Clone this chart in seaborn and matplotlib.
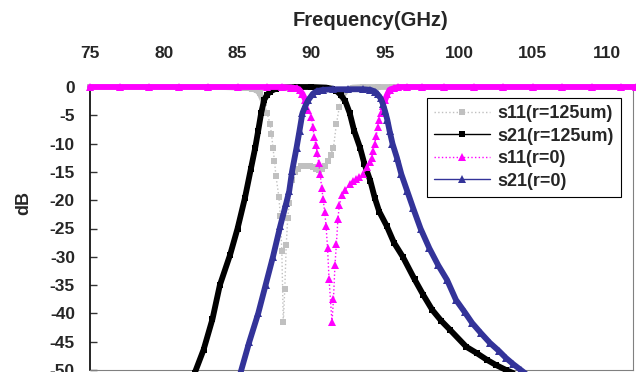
import numpy as np
import matplotlib
matplotlib.use('Agg')
import matplotlib.pyplot as plt
import seaborn as sns

# ----------------- data -----------------
# s11, r = 125um (grey, dotted, squares)
freq_s11_125 = [75, 77, 79, 81, 83, 84, 85, 85.5, 86.0, 86.3, 86.5, 86.8, 87.0, 87.2,
                87.3, 87.4, 87.5, 87.6, 87.8, 87.9, 88.0, 88.1, 88.2, 88.3, 88.4, 88.5,
                88.7, 88.9, 89.1, 89.3, 89.5, 89.7, 89.9, 90.1, 90.3, 90.5, 90.7, 90.9,
                91.1, 91.3, 91.5, 91.7, 91.9, 92.1, 92.4, 92.8, 93.5, 94.5, 95.5, 96.5,
                97.5, 99, 101, 103, 105, 107, 109, 111, 112]
db_s11_125 = [0, 0, 0, 0, 0, 0, -0.1, -0.1, -0.3, -0.6, -1.1, -2.9, -4.6, -6.5,
              -8.3, -10.7, -13.0, -15.7, -19.4, -22.8, -29.0, -41.6, -35.7, -27.9, -23.2, -20.5,
              -16.5, -15.0, -14.4, -14.0, -13.9, -13.9, -14.0, -14.2, -14.5, -14.6, -14.4, -14.0,
              -13.0, -12.0, -10.7, -6.5, -3.5, -1.6, -0.5, -0.1, 0, 0, 0, 0,
              0, 0, 0, 0, 0, 0, 0, 0, 0]

# s21, r = 125um (black, solid, squares)
freq_s21_125 = [82.1, 82.7, 83.3, 83.8, 84.5, 85.0, 85.5, 85.9, 86.2, 86.4, 86.6, 86.8,
                87.0, 87.2, 87.6, 88.0, 89.0, 90.0, 91.0, 91.4, 91.7, 92.0, 92.3, 92.6,
                92.9, 93.3, 93.6, 94.0, 94.3, 94.6, 95.1, 95.6, 96.2, 97.0, 97.6, 98.2,
                98.8, 99.4, 100.5, 101.2, 101.9, 102.5, 103.2, 103.9]
db_s21_125 = [-50.5, -46.4, -41.0, -35.0, -29.6, -25.0, -19.6, -14.5, -10.7, -7.7, -4.6, -2.3,
              -1.4, -0.8, -0.3, -0.1, 0, 0, -0.1, -0.3, -0.7, -1.4, -2.5, -4.6,
              -7.7, -10.7, -13.6, -16.6, -19.6, -22.0, -24.5, -27.5, -30.0, -34.0, -36.8, -39.4,
              -41.3, -42.9, -45.9, -47.0, -48.2, -49.1, -50.0, -50.8]

# s11, r = 0 (magenta, dotted, triangles)
freq_s11_0 = [75, 77, 79, 81, 83, 85, 87, 88.0, 88.6, 89.0, 89.2, 89.4, 89.6, 89.8,
              90.0, 90.1, 90.2, 90.3, 90.4, 90.5, 90.6, 90.7, 90.8, 90.9, 91.0, 91.1,
              91.2, 91.4, 91.5, 91.6, 91.7, 91.8, 91.9, 92.1, 92.3, 92.6, 92.8, 93.0,
              93.2, 93.5, 93.8, 94.0, 94.1, 94.2, 94.3, 94.4, 94.5, 94.6, 94.7, 94.85,
              95.0, 95.15, 95.3, 95.6, 95.9, 96.5, 97.5, 99, 101, 103, 105, 107,
              109, 111, 112]
db_s11_0 = [0, 0, 0, 0, 0, 0, 0, 0, -0.1, -0.2, -0.5, -1.2, -2.3, -4.1,
            -5.3, -7.1, -8.9, -10.2, -11.6, -13.4, -15.4, -17.8, -19.8, -22.0, -24.6, -28.5,
            -33.9, -41.6, -37.5, -31.5, -27.7, -23.4, -20.8, -19.0, -18.2, -17.1, -16.6, -16.3,
            -15.9, -15.4, -14.2, -13.2, -12.5, -11.3, -10.0, -8.6, -7.1, -5.8, -4.6, -3.4,
            -2.3, -1.3, -0.5, -0.2, 0, 0, 0, 0, 0, 0, 0, 0,
            0, 0, 0]

# s21, r = 0 (dark blue, solid, triangles)
freq_s21_0 = [85.2, 85.8, 86.4, 86.9, 87.4, 87.9, 88.3, 88.5, 88.7, 89.0, 89.2, 89.4,
              89.6, 89.8, 90.1, 90.4, 90.8, 91.5, 92.5, 93.5, 94.0, 94.3, 94.5, 94.7,
              94.85, 95.0, 95.15, 95.3, 95.5, 95.8, 96.1, 96.5, 96.9, 97.4, 98.0, 98.6,
              99.2, 99.8, 100.4, 100.9, 101.5, 102.1, 102.7, 103.2, 103.7, 104.2, 104.6]
db_s21_0 = [-50.5, -45.0, -40.0, -35.0, -30.0, -24.5, -20.5, -18.4, -14.8, -10.7, -7.7, -4.6,
            -3.3, -2.3, -1.2, -0.7, -0.5, -0.4, -0.4, -0.4, -0.5, -0.8, -1.3, -2.0,
            -3.0, -4.3, -5.8, -7.7, -10.0, -12.5, -15.4, -18.4, -21.4, -25.0, -28.5, -31.5,
            -34.1, -37.6, -39.8, -41.7, -43.5, -45.2, -46.6, -47.9, -49.0, -50.0, -50.8]

x_ticks = [75, 80, 85, 90, 95, 100, 105, 110]
y_ticks = [0, -5, -10, -15, -20, -25, -30, -35, -40, -45, -50]

# ----------------- style -----------------
sns.set_style('white')
plt.rcParams['font.family'] = ['Liberation Sans', 'DejaVu Sans']
plt.rcParams['font.weight'] = 'bold'
plt.rcParams['axes.unicode_minus'] = False

fig = plt.figure(figsize=(6.36, 3.72), dpi=100)
ax = fig.add_axes([90 / 636, 2 / 372, 543 / 636, 283 / 372])

# Excel draw order: later series on top
series = [
    (freq_s11_125, db_s11_125, 's11(r=125um)', '#C0C0C0', 's', ':', 4.6, False),
    (freq_s21_125, db_s21_125, 's21(r=125um)', 'black', 's', '-', 4.6, True),
    (freq_s11_0, db_s11_0, 's11(r=0)', '#FF00FF', '^', ':', 5.6, False),
    (freq_s21_0, db_s21_0, 's21(r=0)', '#333399', '^', '-', 5.6, True),
]

for z, (f, d, lab, col, mk, ls, ms, solid) in enumerate(series):
    f = np.array(f, dtype=float)
    d = np.array(d, dtype=float)
    # dense Excel markers merge into a thick band where the curve is flat
    band = d if solid else np.where(d > -3, d, np.nan)
    ax.plot(f, band, color=col, lw=4.2, solid_capstyle='round',
            solid_joinstyle='round', zorder=2 + z, clip_on=False)
    sns.lineplot(x=f, y=d, ax=ax, color=col, marker=mk, markersize=ms,
                 markeredgewidth=0, linestyle=ls, linewidth=1.0,
                 estimator=None, sort=False, label=lab,
                 zorder=2 + z, clip_on=False)

ax.set_xlim(75, 111.8)
ax.set_ylim(-50, 0)
ax.set_xticks(x_ticks)
ax.set_yticks(y_ticks)
ax.set_xticklabels([str(v) for v in x_ticks])
ax.set_yticklabels([str(v) for v in y_ticks])

ax.xaxis.tick_top()
ax.xaxis.set_label_position('top')
ax.tick_params(axis='x', length=0, pad=18.5, labelsize=12.5)
ax.tick_params(axis='y', left=True, direction='in', length=5, width=1,
               color='#333333', pad=10.8, labelsize=12.5)

for side in ['right', 'bottom']:
    ax.spines[side].set_color('#808080')
    ax.spines[side].set_linewidth(0.8)
ax.spines['left'].set_color('black')
ax.spines['left'].set_linewidth(1.2)
ax.spines['top'].set_visible(False)

ax.set_xlabel('Frequency(GHz)', fontsize=14.5, fontweight='bold')
ax.xaxis.set_label_coords((370 - 90) / 543, (370 - 20) / 283)
ax.xaxis.label.set_va('center')
ax.set_ylabel('dB', fontsize=13, fontweight='bold')
ax.yaxis.set_label_coords((24 - 90) / 543, (370 - 203) / 283)
ax.yaxis.label.set_va('center')

leg = ax.legend(loc='upper right', bbox_to_anchor=(0.978, 0.961),
                frameon=True, fancybox=False, edgecolor='black', framealpha=1,
                fontsize=13, handlelength=3.1, handletextpad=0.4,
                labelspacing=0.3, borderpad=0.4, borderaxespad=0)
leg.get_frame().set_linewidth(0.8)
leg.set_zorder(10)

fig.savefig('out.png', dpi=100)
